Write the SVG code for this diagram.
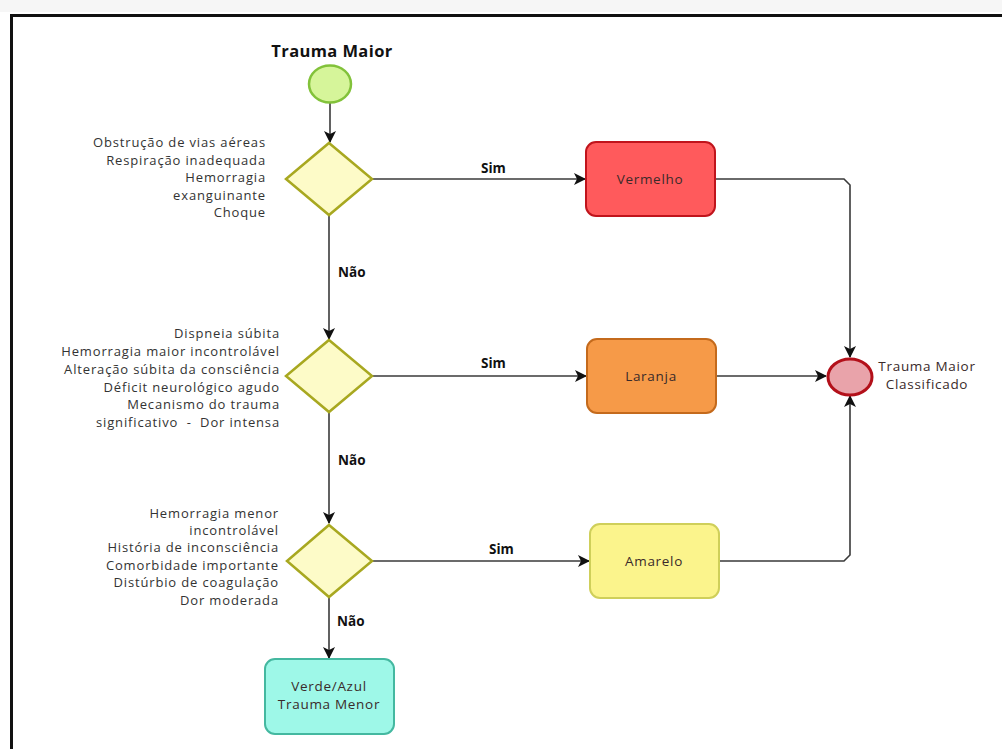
<svg xmlns="http://www.w3.org/2000/svg" width="1002" height="749" viewBox="0 0 1002 749">
<defs>
<marker id="arr" viewBox="0 0 12 12" refX="11" refY="6" markerWidth="12" markerHeight="12" markerUnits="userSpaceOnUse" orient="auto">
<path d="M0,0 L12,6 L0,12 L3,6 Z" fill="#111"/>
</marker>
<style>
.edge{fill:none;stroke:#3a3a3a;stroke-width:1.6}
.crit{font-family:"Open Sans","Liberation Sans",sans-serif;font-size:13px;letter-spacing:0.85px;fill:#333;text-anchor:end;white-space:pre}
.lbl{font-family:"Open Sans","Liberation Sans",sans-serif;font-size:13.5px;font-weight:bold;fill:#111}
.box{font-family:"Open Sans","Liberation Sans",sans-serif;font-size:13.5px;letter-spacing:0.7px;fill:#3a2a2a;text-anchor:middle}
.dia{fill:#fdfbc8;stroke:#a8a820;stroke-width:2.5}
</style>
</defs>
<rect x="0" y="0" width="1002" height="749" fill="#fff"/>
<rect x="0" y="0" width="1002" height="12" fill="#f6f6f6"/>
<path d="M11.5,760 V15.5 H1010" fill="none" stroke="#111" stroke-width="3"/>

<g id="edges">
<path class="edge" d="M330,103 V142" marker-end="url(#arr)"/>
<path class="edge" d="M372,179 H585" marker-end="url(#arr)"/>
<path class="edge" d="M329,215 V339" marker-end="url(#arr)"/>
<path class="edge" d="M372,376 H586" marker-end="url(#arr)"/>
<path class="edge" d="M329,412 V523" marker-end="url(#arr)"/>
<path class="edge" d="M372,561 H589" marker-end="url(#arr)"/>
<path class="edge" d="M329,597 V658" marker-end="url(#arr)"/>
<path class="edge" d="M715,179 H844 L850,185 V357" marker-end="url(#arr)"/>
<path class="edge" d="M716,376 H826" marker-end="url(#arr)"/>
<path class="edge" d="M719,561 H844 L850,555 V396" marker-end="url(#arr)"/>
<text class="lbl" x="481" y="173">Sim</text>
<text class="lbl" x="481" y="368">Sim</text>
<text class="lbl" x="489" y="554">Sim</text>
<text class="lbl" x="338" y="277">Não</text>
<text class="lbl" x="338" y="465">Não</text>
<text class="lbl" x="337" y="626">Não</text>
</g>

<g id="start">
<text x="332" y="57" text-anchor="middle" font-family="'Open Sans','Liberation Sans',sans-serif" font-size="16.5" letter-spacing="0.4" font-weight="bold" fill="#111">Trauma Maior</text>
<ellipse cx="330" cy="84" rx="21" ry="18.5" fill="#d6f59a" stroke="#82c23a" stroke-width="2.5"/>
</g>

<g id="decision1">
<polygon class="dia" points="329,143 372,179 329,215 286,179"/>
<text class="crit" x="266" y="147">Obstrução de vias aéreas</text>
<text class="crit" x="266" y="165">Respiração inadequada</text>
<text class="crit" x="266" y="182">Hemorragia</text>
<text class="crit" x="266" y="200">exanguinante</text>
<text class="crit" x="266" y="217">Choque</text>
</g>

<g id="decision2">
<polygon class="dia" points="329,340 372,376 329,412 286,376"/>
<text class="crit" x="280" y="338">Dispneia súbita</text>
<text class="crit" x="280" y="356">Hemorragia maior incontrolável</text>
<text class="crit" x="280" y="374">Alteração súbita da consciência</text>
<text class="crit" x="280" y="392">Déficit neurológico agudo</text>
<text class="crit" x="280" y="409">Mecanismo do trauma</text>
<text class="crit" x="280" y="427">significativo  -  Dor intensa</text>
</g>

<g id="decision3">
<polygon class="dia" points="329,525 372,561 329,597 287,561"/>
<text class="crit" x="279" y="518">Hemorragia menor</text>
<text class="crit" x="279" y="535">incontrolável</text>
<text class="crit" x="279" y="552">História de inconsciência</text>
<text class="crit" x="279" y="570">Comorbidade importante</text>
<text class="crit" x="279" y="587">Distúrbio de coagulação</text>
<text class="crit" x="279" y="605">Dor moderada</text>
</g>

<g id="vermelho">
<rect x="586" y="142" width="129" height="74" rx="10" fill="#ff5a5c" stroke="#c0141c" stroke-width="2"/>
<text class="box" x="650" y="184">Vermelho</text>
</g>

<g id="laranja">
<rect x="587" y="339" width="129" height="74" rx="10" fill="#f69a48" stroke="#c46a1c" stroke-width="2"/>
<text class="box" x="651" y="381">Laranja</text>
</g>

<g id="amarelo">
<rect x="590" y="524" width="129" height="74" rx="10" fill="#fbf48c" stroke="#cfcf5a" stroke-width="2"/>
<text class="box" x="654" y="566">Amarelo</text>
</g>

<g id="verde">
<rect x="265" y="659" width="129" height="75" rx="10" fill="#9ef8e8" stroke="#44b8a0" stroke-width="2"/>
<text class="box" x="329" y="691">Verde/Azul</text>
<text class="box" x="329" y="709">Trauma Menor</text>
</g>

<g id="end">
<ellipse cx="850" cy="377" rx="22" ry="18" fill="#e9a3aa" stroke="#b3101a" stroke-width="3"/>
<text class="box" x="927" y="371">Trauma Maior</text>
<text class="box" x="927" y="389">Classificado</text>
</g>
</svg>
